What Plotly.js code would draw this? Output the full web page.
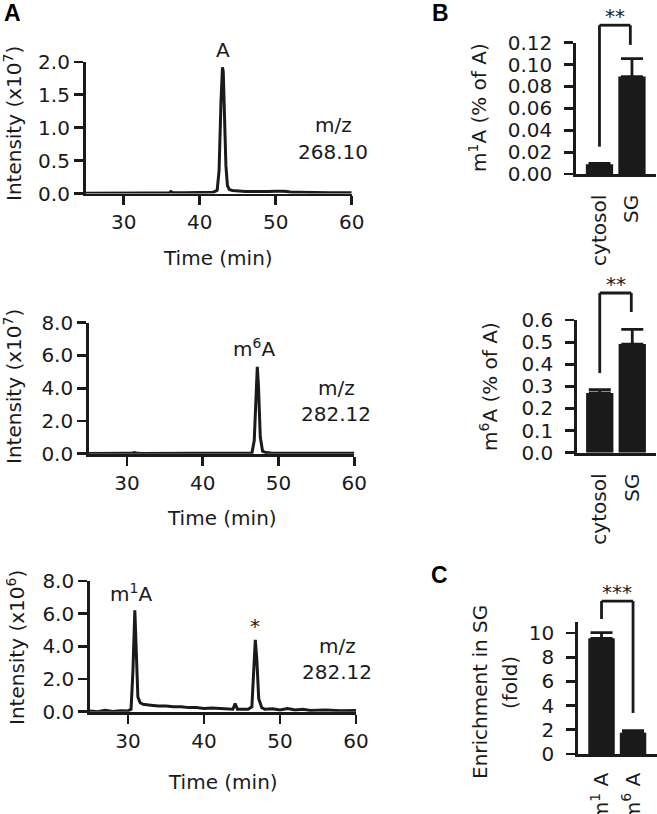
<!DOCTYPE html>
<html><head><meta charset="utf-8">
<script src="https://cdn.plot.ly/plotly-3.0.1.min.js"></script>
<style>html,body{margin:0;padding:0;background:#fff}#chart{width:657px;height:814px}</style>
</head><body><div id="chart"></div>
<script>
// ---- Panel A: extracted ion chromatograms ----
// m/z 268.10 (A), intensity x10^7
const timeA = [25, 27, 28.5, 30, 31.5, 33, 34.5, 36, 36.2, 36.5, 38, 39.5, 40, 40.5, 41, 41.8, 42.3, 42.55, 42.8, 43.0, 43.1, 43.25, 43.45, 43.65, 43.9, 44.3, 45, 46, 47, 48, 49, 50, 50.5, 51, 51.5, 52, 53, 54, 55, 56, 57, 58, 59, 60];
const intA  = [0.005, 0.008, 0.004, 0.007, 0.005, 0.008, 0.006, 0.01, 0.03, 0.01, 0.012, 0.015, 0.022, 0.02, 0.015, 0.02, 0.05, 0.35, 1.4, 1.92, 1.85, 1.15, 0.42, 0.12, 0.06, 0.045, 0.035, 0.03, 0.03, 0.025, 0.03, 0.035, 0.04, 0.035, 0.03, 0.02, 0.02, 0.015, 0.012, 0.012, 0.01, 0.012, 0.01, 0.01];
// m/z 282.12 (m6A), intensity x10^7
const timeM6 = [25, 27, 29, 30.6, 31, 31.4, 32, 34, 36, 38, 40, 42, 44, 45, 46, 46.5, 46.8, 47.05, 47.2, 47.35, 47.6, 47.9, 48.3, 49, 50, 52, 54, 56, 58, 60];
const intM6  = [0.01, 0.01, 0.015, 0.02, 0.07, 0.02, 0.01, 0.01, 0.01, 0.01, 0.01, 0.012, 0.015, 0.02, 0.025, 0.05, 0.8, 4.5, 5.3, 4.2, 1.0, 0.15, 0.07, 0.05, 0.04, 0.03, 0.025, 0.02, 0.02, 0.02];
// m/z 282.12 (m1A), intensity x10^6
const timeM1 = [25, 26, 27, 28, 29, 30, 30.4, 30.65, 30.9, 31.1, 31.3, 31.6, 32, 33, 34, 35, 36, 37, 38, 39, 40, 41, 42, 43, 43.8, 44.1, 44.4, 45, 45.8, 46.3, 46.55, 46.75, 46.95, 47.2, 47.6, 48, 49, 50, 51, 52, 53, 54, 56, 58, 60];
const intM1  = [0.05, 0.0, 0.08, 0.02, 0.06, 0.05, 0.15, 2.5, 6.2, 3.0, 0.9, 0.55, 0.45, 0.4, 0.35, 0.35, 0.3, 0.3, 0.25, 0.25, 0.2, 0.22, 0.2, 0.18, 0.15, 0.5, 0.15, 0.15, 0.15, 0.3, 2.5, 4.4, 3.2, 0.8, 0.25, 0.15, 0.18, 0.1, 0.2, 0.1, 0.15, 0.08, 0.1, 0.06, 0.08];

// ---- Panel B: modification level (% of A) ----
const fractions = ['cytosol', 'SG'];
const m1aPct = [0.0088, 0.089];
const m1aErr = [0.001, 0.0165];
const m6aPct = [0.27, 0.491];
const m6aErr = [0.015, 0.067];
const noErr = [0, 0];
// significance brackets: [left leg end, top, right leg end] in data units
const sigB1 = [0.025, 0.136, 0.118];
const sigB2 = [0.36, 0.722, 0.636];

// ---- Panel C: enrichment in SG (fold) ----
const mods = ['m<sup>1</sup> A', 'm<sup>6</sup> A'];
const enrich = [9.55, 1.76];
const enrichErr = [0.47, 0.16];
const sigC = [11.15, 12.63, 3.39];

const W = 657, H = 814;
const FONT = 'DejaVu Sans, sans-serif';
const INK = '#1a1a1a';
function dx(a, b) { return [a / W, b / W]; }
function dy(top, bottom) { return [1 - bottom / H, 1 - top / H]; }
function ax(extra) {
  return Object.assign({
    showline: true, linecolor: INK, linewidth: 2.8, ticks: 'outside', ticklen: 9,
    tickwidth: 2.8, tickcolor: INK, showgrid: false, zeroline: false, fixedrange: true,
    tickfont: { family: FONT, size: 20, color: INK }
  }, extra);
}

const lineStyle = { color: INK, width: 3 };
const data = [
  { x: timeA, y: intA, type: 'scatter', mode: 'lines', line: lineStyle, xaxis: 'x', yaxis: 'y', hoverinfo: 'skip' },
  { x: timeM6, y: intM6, type: 'scatter', mode: 'lines', line: lineStyle, xaxis: 'x2', yaxis: 'y2', hoverinfo: 'skip' },
  { x: timeM1, y: intM1, type: 'scatter', mode: 'lines', line: lineStyle, xaxis: 'x3', yaxis: 'y3', hoverinfo: 'skip' },
  { x: fractions, y: m1aPct, type: 'bar', width: 0.84, marker: { color: INK }, xaxis: 'x4', yaxis: 'y4',
    error_y: { type: 'data', symmetric: false, array: m1aErr, arrayminus: noErr, color: INK, thickness: 2.8, width: 11 } },
  { x: fractions, y: m6aPct, type: 'bar', width: 0.84, marker: { color: INK }, xaxis: 'x5', yaxis: 'y5',
    error_y: { type: 'data', symmetric: false, array: m6aErr, arrayminus: noErr, color: INK, thickness: 2.8, width: 11 } },
  { x: mods, y: enrich, type: 'bar', width: 0.84, marker: { color: INK }, xaxis: 'x6', yaxis: 'y6',
    error_y: { type: 'data', symmetric: false, array: enrichErr, arrayminus: noErr, color: INK, thickness: 2.8, width: 11 } }
];

const xrB1 = [-0.723, 1.74], xrB2 = [-0.70, 1.73], xrC = [-0.746, 1.76];
const yrB1 = [0, 0.12], yrB2 = [0, 0.6], yrC = [0, 10.9];

const catAxis = (dom, rng, cats, anchor, standoff) => ax({
  domain: dom, range: rng, type: 'category', categoryarray: cats, categoryorder: 'array',
  ticks: '', tickangle: -90, anchor: anchor, ticklabelstandoff: standoff
});

const layout = {
  width: W, height: H, margin: { l: 0, r: 0, t: 0, b: 0 }, showlegend: false,
  paper_bgcolor: '#fff', plot_bgcolor: 'rgba(0,0,0,0)',
  font: { family: FONT, size: 20, color: INK },
  xaxis: ax({ domain: dx(85.7, 351.7), range: [25, 60], tickvals: [30, 40, 50, 60], anchor: 'y' }),
  yaxis: ax({ domain: dy(62, 193.5), range: [0, 2], tickvals: [0, 0.5, 1, 1.5, 2], tickformat: '.1f', anchor: 'x' }),
  xaxis2: ax({ domain: dx(89, 354.3), range: [25, 60], tickvals: [30, 40, 50, 60], anchor: 'y2' }),
  yaxis2: ax({ domain: dy(322.7, 453.7), range: [0, 8], tickvals: [0, 2, 4, 6, 8], tickformat: '.1f', anchor: 'x2' }),
  xaxis3: ax({ domain: dx(90, 356), range: [25, 60], tickvals: [30, 40, 50, 60], anchor: 'y3' }),
  yaxis3: ax({ domain: dy(581, 711.7), range: [0, 8], tickvals: [0, 2, 4, 6, 8], tickformat: '.1f', anchor: 'x3' }),
  xaxis4: catAxis(dx(576, 656), xrB1, fractions, 'y4', 10),
  yaxis4: ax({ domain: dy(42.7, 174), range: yrB1, dtick: 0.02, tickformat: '.2f', anchor: 'x4', ticklabelstandoff: 8 }),
  xaxis5: catAxis(dx(577, 656), xrB2, fractions, 'y5', 10),
  yaxis5: ax({ domain: dy(320, 452.7), range: yrB2, dtick: 0.1, tickformat: '.1f', anchor: 'x5', ticklabelstandoff: 8 }),
  xaxis6: catAxis(dx(578, 657), xrC, mods, 'y6', 8),
  yaxis6: ax({ domain: dy(622, 754), range: yrC, tickvals: [0, 2, 4, 6, 8, 10], anchor: 'x6', ticklabelstandoff: 8 }),
  shapes: [], annotations: []
};

// significance brackets drawn in axis-domain fractions derived from the axis ranges
function bracket(xi, yi, xr, yr, sig, leftCat, rightCat, label) {
  const fx = c => (c - xr[0]) / (xr[1] - xr[0]);
  const fy = v => (v - yr[0]) / (yr[1] - yr[0]);
  const xref = 'x' + xi + ' domain', yref = 'y' + yi + ' domain';
  const ln = { color: INK, width: 2.8 };
  const xl = fx(leftCat), xrt = fx(rightCat);
  layout.shapes.push(
    { type: 'line', xref, yref, x0: xl, x1: xl, y0: fy(sig[0]), y1: fy(sig[1]), line: ln },
    { type: 'line', xref, yref, x0: xl, x1: xrt, y0: fy(sig[1]), y1: fy(sig[1]), line: ln },
    { type: 'line', xref, yref, x0: xrt, x1: xrt, y0: fy(sig[1]), y1: fy(sig[2]), line: ln }
  );
  layout.annotations.push({ xref, yref, x: (xl + xrt) / 2, y: fy(sig[1]), yanchor: 'bottom', yshift: -5,
    text: label, showarrow: false, font: { family: FONT, size: 20, color: INK } });
}
bracket(4, 4, xrB1, yrB1, sigB1, 0, 0.95, '**');
bracket(5, 5, xrB2, yrB2, sigB2, 0, 0.97, '**');
bracket(6, 6, xrC, yrC, sigC, 0, 1.0, '***');

function txt(px, py, text, opts) {
  layout.annotations.push(Object.assign({ xref: 'paper', yref: 'paper', x: px / W, y: 1 - py / H,
    text: text, showarrow: false, xanchor: 'center', yanchor: 'middle',
    font: { family: FONT, size: 20, color: INK } }, opts || {}));
}
const bold = { font: { family: 'Liberation Sans, Arial, sans-serif', size: 23, color: '#000', weight: 'bold' } };
txt(12, 13, '<b>A</b>', bold);
txt(440, 13, '<b>B</b>', bold);
txt(439, 575, '<b>C</b>', bold);
// axis titles
txt(13, 124, 'Intensity (x10<sup>7</sup>)', { textangle: -90 });
txt(13, 387, 'Intensity (x10<sup>7</sup>)', { textangle: -90 });
txt(16, 648, 'Intensity (x10<sup>6</sup>)', { textangle: -90 });
txt(218, 258, 'Time (min)');
txt(222, 518, 'Time (min)');
txt(223, 782, 'Time (min)');
txt(478, 108, 'm<sup>1</sup>A (% of A)', { textangle: -90 });
txt(489, 387, 'm<sup>6</sup>A (% of A)', { textangle: -90 });
txt(480, 692, 'Enrichment in SG', { textangle: -90 });
txt(510, 683, '(fold)', { textangle: -90 });
// peak labels
txt(222.5, 50, 'A');
txt(254, 348, 'm<sup>6</sup>A');
txt(131, 593, 'm<sup>1</sup>A');
txt(255, 626, '*');
// m/z labels
txt(333, 125, 'm/z');
txt(333, 152, '268.10');
txt(336, 388, 'm/z');
txt(336, 414, '282.12');
txt(337, 646, 'm/z');
txt(337, 672, '282.12');

Plotly.newPlot('chart', data, layout, { staticPlot: true, displayModeBar: false });
</script>
</body></html>
